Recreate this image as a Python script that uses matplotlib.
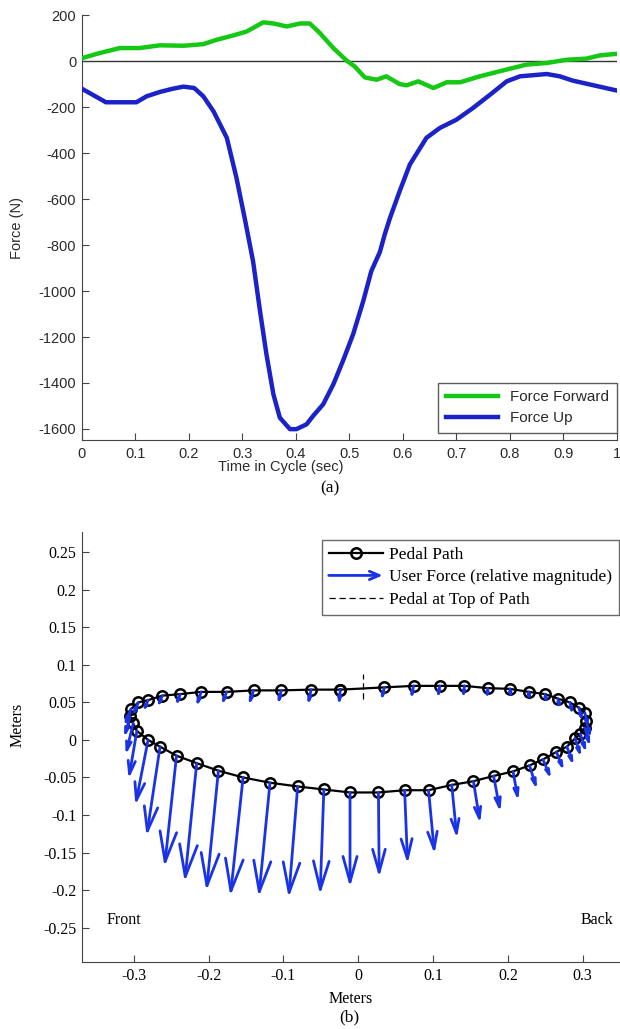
import matplotlib
matplotlib.use("Agg")
import matplotlib.pyplot as plt
import numpy as np
from matplotlib.lines import Line2D
from matplotlib.patches import FancyArrowPatch
from matplotlib.legend_handler import HandlerPatch

plt.rcParams['axes.unicode_minus'] = False

# ---- (a) pedal forces over one cycle ----
t_fwd = [0.0, 0.033, 0.071, 0.108, 0.146, 0.19, 0.227, 0.252, 0.283, 0.308, 0.339, 0.358,
         0.383, 0.408, 0.426, 0.445, 0.470, 0.495, 0.510, 0.529, 0.551, 0.569, 0.594, 0.607,
         0.629, 0.657, 0.682, 0.707, 0.744, 0.781, 0.831, 0.869, 0.906, 0.943, 0.968, 1.0]
f_fwd = [14, 36, 58, 58, 70, 68, 75, 94, 113, 130, 170, 165,
         152, 165, 165, 123, 58, 3, -22, -70, -80, -65, -99, -104,
         -87, -116, -91, -91, -65, -43, -14, -7, 7, 12, 26, 33]

t_up = [0.0, 0.02, 0.045, 0.071, 0.102, 0.121, 0.146, 0.170, 0.19, 0.21, 0.227, 0.246,
        0.271, 0.289, 0.305, 0.320, 0.333, 0.345, 0.358, 0.370, 0.389, 0.401, 0.420, 0.432,
        0.451, 0.470, 0.488, 0.507, 0.526, 0.541, 0.557, 0.566, 0.576, 0.594, 0.613, 0.644,
        0.669, 0.700, 0.731, 0.763, 0.794, 0.819, 0.869, 0.893, 0.918, 0.956, 1.0]
f_up = [-119, -145, -178, -178, -178, -152, -133, -119, -110, -116, -152, -217,
        -333, -507, -690, -870, -1087, -1275, -1449, -1551, -1601, -1601, -1580, -1544,
        -1493, -1406, -1304, -1188, -1043, -913, -830, -754, -681, -565, -449, -333,
        -290, -254, -203, -145, -87, -65, -55, -65, -84, -104, -127]

# ---- (b) pedal path and user force vectors (m) ----
path_x = [-0.024, -0.063, -0.103, -0.140, -0.176, -0.210, -0.238, -0.262, -0.281, -0.294,
          -0.304, -0.305, -0.301, -0.296, -0.281, -0.265, -0.243, -0.216, -0.187, -0.154,
          -0.118, -0.081, -0.046, -0.011, 0.027, 0.062, 0.094, 0.125, 0.154, 0.181,
          0.207, 0.229, 0.247, 0.265, 0.279, 0.290, 0.297, 0.303, 0.305, 0.303,
          0.295, 0.283, 0.267, 0.250, 0.228, 0.203, 0.173, 0.142, 0.109, 0.074, 0.035]
path_y = [0.067, 0.067, 0.066, 0.066, 0.064, 0.064, 0.061, 0.059, 0.053, 0.050,
          0.041, 0.032, 0.022, 0.012, 0.000, -0.009, -0.021, -0.031, -0.041, -0.050,
          -0.057, -0.062, -0.066, -0.070, -0.070, -0.067, -0.067, -0.060, -0.055, -0.048,
          -0.042, -0.034, -0.026, -0.016, -0.009, 0.002, 0.008, 0.016, 0.025, 0.036,
          0.043, 0.050, 0.055, 0.061, 0.064, 0.068, 0.069, 0.072, 0.072, 0.072, 0.070]
force_u = [-0.002, -0.0045, -0.0045, -0.0067, -0.0067, -0.0067, -0.006, -0.0067, -0.0067, -0.008,
           -0.009, -0.008, -0.010, -0.011, -0.017, -0.018, -0.016, -0.016, -0.016, -0.017,
           -0.015, -0.012, -0.005, 0.000, 0.001, 0.004, 0.008, 0.007, 0.009, 0.009,
           0.007, 0.010, 0.011, 0.010, 0.009, 0.008, 0.008, 0.007, 0.006, 0.005,
           0.005, 0.004, 0.003, 0.002, 0.001, 0.001, -0.001, -0.002, -0.003, -0.0036, -0.0045]
force_v = [-0.021, -0.021, -0.019, -0.020, -0.018, -0.020, -0.016, -0.016, -0.016, -0.019,
           -0.023, -0.029, -0.042, -0.064, -0.087, -0.119, -0.148, -0.158, -0.160, -0.158,
           -0.152, -0.148, -0.140, -0.126, -0.113, -0.098, -0.085, -0.071, -0.056, -0.048,
           -0.039, -0.032, -0.026, -0.025, -0.025, -0.025, -0.025, -0.025, -0.023, -0.021,
           -0.019, -0.017, -0.015, -0.014, -0.013, -0.014, -0.015, -0.017, -0.017, -0.018, -0.018]
top_x = 0.006
top_y = [0.055, 0.088]

green = '#14c814'
blue_dark = '#1a22c8'
blue = '#1a33e6'
grey = '#2a2a2a'

fig = plt.figure(figsize=(6.2, 10.29), dpi=100)

# ---------------- force vs time ----------------
ax1 = fig.add_axes([0.132, 0.572, 0.863, 0.413])
sans = ['Liberation Sans', 'DejaVu Sans']
ax1.axhline(0, color='#333333', lw=1.0, zorder=1)
ax1.plot(t_fwd, f_fwd, color=green, lw=3.2, label='Force Forward', zorder=3)
ax1.plot(t_up, f_up, color=blue_dark, lw=3.2, label='Force Up', zorder=3)
ax1.set_xlim(0, 1)
ax1.set_ylim(-1650, 200)
ax1.set_xticks(np.arange(0, 1.01, 0.1))
ax1.set_xticklabels(['0', '0.1', '0.2', '0.3', '0.4', '0.5', '0.6', '0.7', '0.8', '0.9', '1'])
yt1 = np.arange(-1600, 201, 200)
ax1.set_yticks(yt1)
ax1.set_yticklabels([str(v) for v in yt1])
for s in ['top', 'right']:
    ax1.spines[s].set_visible(False)
for s in ['left', 'bottom']:
    ax1.spines[s].set_color('#444444')
ax1.tick_params(direction='in', length=5, colors='#444444', labelcolor=grey,
                labelsize=10.5, pad=4)
ax1.tick_params(axis='x', pad=5)
for lab in ax1.get_xticklabels() + ax1.get_yticklabels():
    lab.set_family(sans)
ax1.set_xlabel('Time in Cycle (sec)', family=sans, fontsize=10.5, color=grey)
ax1.set_ylabel('Force (N)', family=sans, fontsize=10.5, color=grey)
ax1.xaxis.set_label_coords(0.372, -0.046)
ax1.yaxis.set_label_coords(-0.108, 0.5)
leg1 = ax1.legend(loc='lower right', bbox_to_anchor=(1.0, 0.018), frameon=True,
                  fancybox=False, edgecolor='#333333', handlelength=3.4,
                  prop={'family': sans, 'size': 11}, borderpad=0.5, labelspacing=0.45,
                  borderaxespad=0)
leg1.get_frame().set_linewidth(1.0)
for txt in leg1.get_texts():
    txt.set_color(grey)

fig.text(0.532, 1 - 488 / 1029, '(a)', family=['Liberation Serif'], fontsize=12.5,
         ha='center', va='center')

# ---------------- pedal path ----------------
serif = ['Liberation Serif', 'DejaVu Serif']
ax2 = fig.add_axes([0.132, 0.065, 0.868, 0.418])
px = path_x + path_x[:1]
py = path_y + path_y[:1]
ax2.plot(px, py, color='black', lw=1.6, marker='o', ms=7.5, mfc='none', mew=1.8, zorder=2)
ax2.plot([top_x, top_x], top_y, color='black', lw=0.9, ls=(0, (5, 3)), zorder=1)

pt_per_m = 538.0
for x0, y0, u, v in zip(path_x, path_y, force_u, force_v):
    L = np.hypot(u, v) * pt_per_m
    arr = FancyArrowPatch((x0, y0), (x0 + u, y0 + v),
                          arrowstyle='->,head_length=%.2f,head_width=%.2f' % (0.27 * L, 0.075 * L),
                          mutation_scale=1, color=blue, lw=2.0, shrinkA=0, shrinkB=0,
                          zorder=3)
    ax2.add_patch(arr)

ax2.set_xlim(-0.3696, 0.350)
ax2.set_ylim(-0.296, 0.277)
ax2.set_xticks([-0.3, -0.2, -0.1, 0, 0.1, 0.2, 0.3])
ax2.set_xticklabels(['-0.3', '-0.2', '-0.1', '0', '0.1', '0.2', '0.3'])
yt = [-0.25, -0.2, -0.15, -0.1, -0.05, 0, 0.05, 0.1, 0.15, 0.2, 0.25]
ax2.set_yticks(yt)
ax2.set_yticklabels(['-0.25', '-0.2', '-0.15', '-0.1', '-0.05', '0', '0.05', '0.1', '0.15', '0.2', '0.25'])
for s in ['top', 'right']:
    ax2.spines[s].set_visible(False)
for s in ['left', 'bottom']:
    ax2.spines[s].set_color('#444444')
ax2.tick_params(direction='in', length=5, colors='#444444', labelcolor='black',
                labelsize=11.5, pad=4)
for lab in ax2.get_xticklabels() + ax2.get_yticklabels():
    lab.set_family(serif)
ax2.set_xlabel('Meters', family=serif, fontsize=11.5)
ax2.set_ylabel('Meters', family=serif, fontsize=11.5)
ax2.xaxis.set_label_coords(0.5, -0.068)
ax2.yaxis.set_label_coords(-0.104, 0.551)

ax2.text(-0.336, -0.24, 'Front', family=serif, fontsize=11.5, ha='left', va='center')
ax2.text(0.341, -0.24, 'Back', family=serif, fontsize=11.5, ha='right', va='center')


def make_arrow(legend, orig_handle, xdescent, ydescent, width, height, fontsize):
    return FancyArrowPatch((-xdescent, height / 2), (-xdescent + width, height / 2),
                           arrowstyle='->,head_length=7,head_width=3', mutation_scale=1,
                           shrinkA=0, shrinkB=0)


arrow_handle = FancyArrowPatch((0, 0), (1, 1), color=blue, lw=2.0)
handles = [Line2D([], [], color='black', lw=1.6, marker='o', ms=7.5, mfc='none', mew=1.8),
           arrow_handle,
           Line2D([], [], color='black', lw=0.9, ls=(0, (5, 3)))]
labels = ['Pedal Path', 'User Force (relative magnitude)', 'Pedal at Top of Path']
leg2 = ax2.legend(handles, labels, loc='upper left', bbox_to_anchor=(0.446, 0.981),
                  frameon=True, fancybox=False, edgecolor='#444444', handlelength=3.1,
                  prop={'family': serif, 'size': 12.5}, borderpad=0.4, labelspacing=0.35,
                  borderaxespad=0, handletextpad=0.35,
                  handler_map={FancyArrowPatch: HandlerPatch(patch_func=make_arrow)})
leg2.get_frame().set_linewidth(1.0)

fig.text(349 / 620, 1 - 1017 / 1029, '(b)', family=serif, fontsize=12.5,
         ha='center', va='center')

fig.savefig('out.png', dpi=100)
